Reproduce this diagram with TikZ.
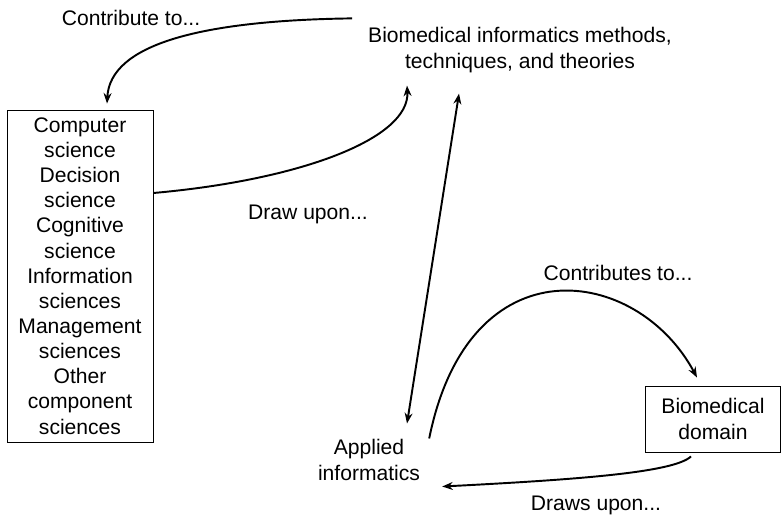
\documentclass[tikz,border=0pt]{standalone}
\usepackage{fontspec}
\setmainfont{Liberation Sans}
\usetikzlibrary{arrows.meta, calc}
\tikzstyle{box} = [rectangle, draw=black, line width=0.5pt, align=center, inner sep=0pt]
\tikzstyle{plain} = [align=center]
\tikzstyle{lbl} = [text height=8.7pt, text depth=2.5pt]
\tikzstyle{arrow} = [line width=1.1pt, ->, >={Stealth[length=6pt, width=4.5pt]}]

\begin{document}
\begin{tikzpicture}[x=0.2mm, y=-0.2mm, font=\fontsize{12}{14.3}\selectfont]
    \useasboundingbox (0,0) rectangle (782,518);

        % Nodes
        \node (methods) [plain] at (520,50) {Biomedical informatics methods,\\techniques, and theories};
        \node (sciences) [box, minimum width=2.92cm, minimum height=6.64cm] at (80,276) {Computer\\science\\Decision\\science\\Cognitive\\science\\Information\\sciences\\Management\\sciences\\Other\\component\\sciences};
        \node (applied) [plain] at (369,460) {Applied\\informatics};
        \node (domain) [box, minimum width=2.7cm, minimum height=1.32cm] at (713,419) {Biomedical\\domain};

        % Labels
        \node (lblContrib) [lbl] at (131,20) {Contribute to...};
        \node (lblDraw) [lbl] at (308,214) {Draw upon...};
        \node (lblContribs) [lbl] at (618,275) {Contributes to...};
        \node (lblDraws) [lbl] at (596,505) {Draws upon...};

        % Arrows
        \draw [arrow] ($(methods.north west)+(-10,-3)$) .. controls +(-152,2) and +(3,-59) .. ($(sciences.north)+(27,-6)$);
        \draw [arrow] ($(sciences.east)+(0,-83)$) .. controls +(147,-13) and +(3,53) .. ($(methods.south west)+(45,7)$);
        \draw [arrow, <->] ($(methods.south)+(-61,15)$) -- ($(applied.north)+(38,-10)$);
        \draw [arrow] ($(applied.north east)+(3,5)$) .. controls +(40,-198) and +(-60,-112) .. ($(domain.north)+(-16,-8)$);
        \draw [arrow] ($(domain.south)+(-22,4)$) .. controls +(-17,16) and +(137,-7) .. ($(applied.south east)+(16,0)$);

    \end{tikzpicture}
\end{document}
